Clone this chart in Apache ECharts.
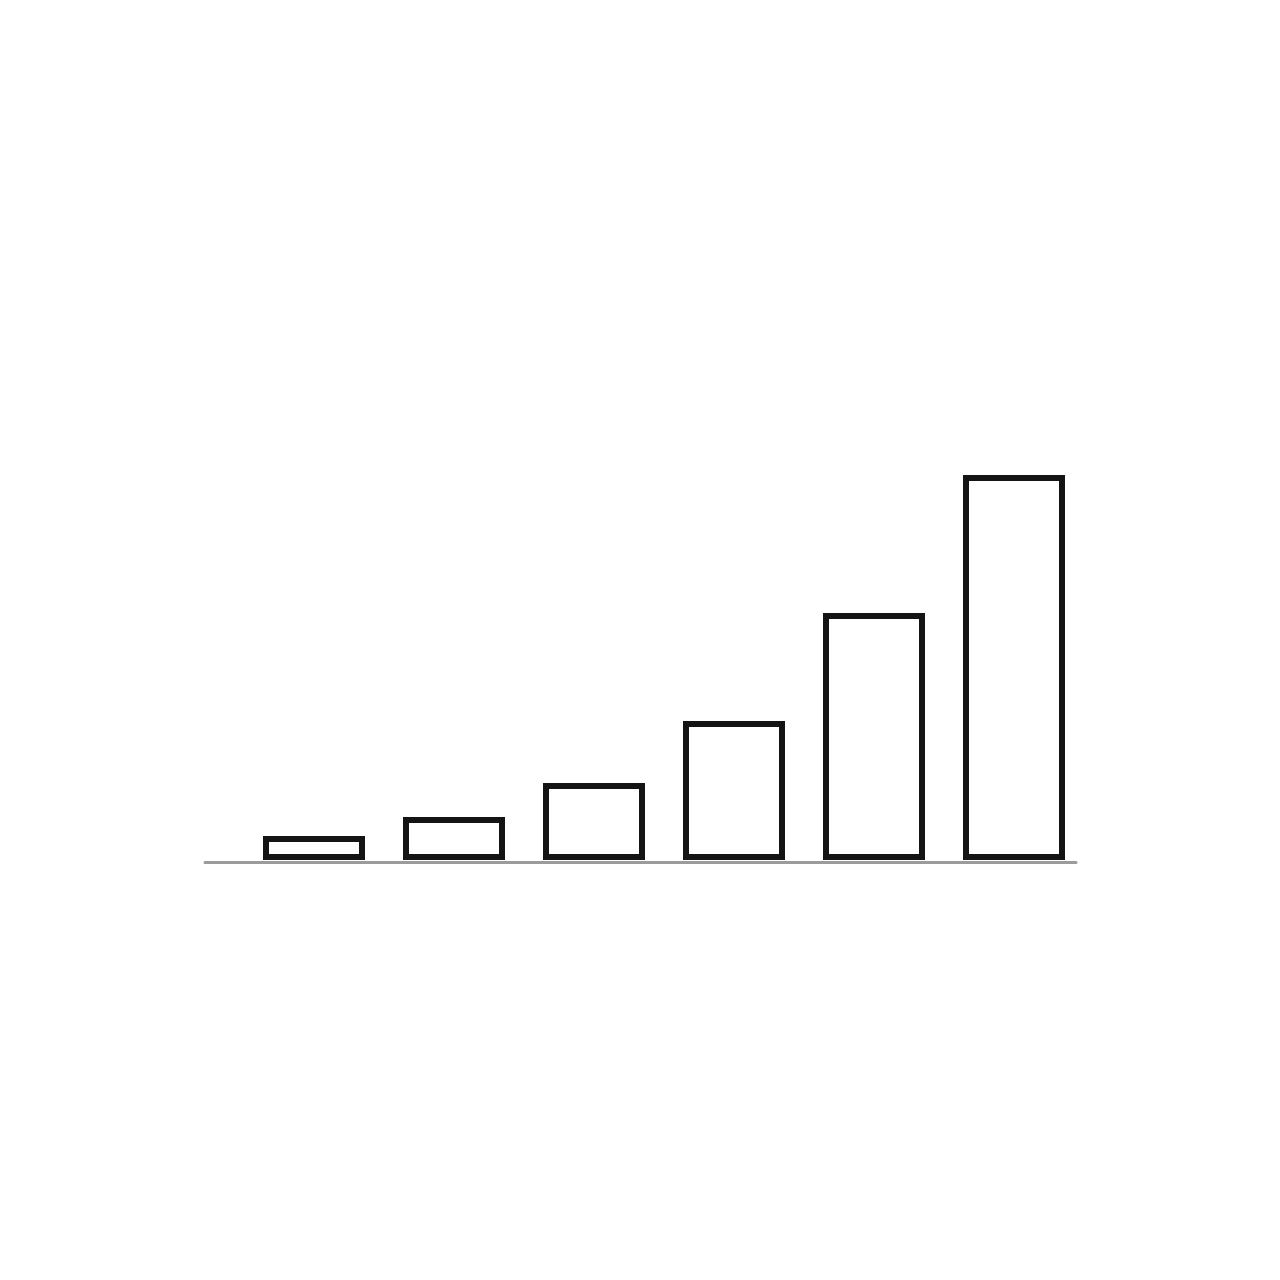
<!DOCTYPE html>
<html>
<head>
<meta charset="utf-8">
<script src="https://cdn.jsdelivr.net/npm/echarts@6/dist/echarts.min.js"></script>
<style>html,body{margin:0;padding:0;background:#fff}#c{width:1280px;height:1280px}</style>
</head>
<body>
<div id="c"></div>
<script>
const categories = ['A', 'B', 'C', 'D', 'E', 'F'];
const values = [24, 43, 77, 139, 247, 385];

const chart = echarts.init(document.getElementById('c'), null, {renderer: 'canvas'});
chart.setOption({
  backgroundColor: '#ffffff',
  animation: false,
  grid: [
    {left: 244, right: 196, top: 460, bottom: 420},
    {left: 205, right: 204, top: 800, bottom: 417.5}
  ],
  xAxis: [
    {type: 'category', gridIndex: 0, data: categories,
     axisLine: {show: false}, axisTick: {show: false}, axisLabel: {show: false}, splitLine: {show: false}},
    {type: 'value', gridIndex: 1, min: 0, max: 1,
     axisLine: {show: true, lineStyle: {color: '#9b9b9b', width: 3}},
     axisTick: {show: false}, axisLabel: {show: false}, splitLine: {show: false}}
  ],
  yAxis: [
    {type: 'value', gridIndex: 0, min: 0, max: 400,
     axisLine: {show: false}, axisTick: {show: false}, axisLabel: {show: false}, splitLine: {show: false}},
    {type: 'value', gridIndex: 1, min: 0, max: 1, show: false}
  ],
  series: [{
    type: 'bar',
    xAxisIndex: 0, yAxisIndex: 0,
    data: values,
    barWidth: 102,
    itemStyle: {color: '#ffffff', borderColor: '#141414', borderWidth: 6}
  }]
});
</script>
</body>
</html>
